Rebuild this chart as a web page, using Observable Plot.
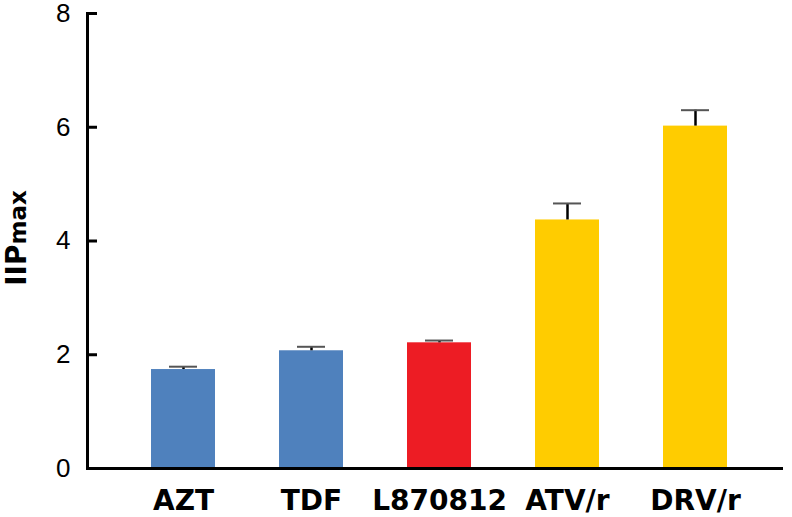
<!DOCTYPE html>
<html><head><meta charset="utf-8">
<script src="https://cdn.jsdelivr.net/npm/d3@7"></script>
<script src="https://cdn.jsdelivr.net/npm/@observablehq/plot@0.6"></script>
<style>
body{margin:0;background:#fff;}
#chart svg{font-family:"Liberation Sans",Arial,sans-serif;}
</style>
</head><body><div id="chart"></div>
<script>
const drugs = ["AZT", "TDF", "L870812", "ATV/r", "DRV/r"];
const values = [1.74, 2.07, 2.21, 4.37, 6.02];
const errors = [0.05, 0.07, 0.04, 0.29, 0.28];
const colors = ["#4F81BD", "#4F81BD", "#ED1C24", "#FFCC00", "#FFCC00"];
const yTicks = [0, 2, 4, 6, 8];

const data = drugs.map((d, i) => ({drug: d, value: values[i], err: errors[i], color: colors[i]}));

const plot = Plot.plot({
  width: 792,
  height: 517,
  marginLeft: 87,
  marginRight: 1,
  marginTop: 13,
  marginBottom: 49,
  style: {fontFamily: "'Liberation Sans', Arial, sans-serif", background: "#fff", color: "#000"},
  x: {domain: drugs, padding: 0.5, label: null},
  y: {domain: [0, 8], label: null},
  color: {type: "identity"},
  marks: [
    Plot.barY(data, {x: "drug", y: "value", fill: "color"}),
    Plot.ruleX(data, {x: "drug", y1: "value", y2: d => d.value + d.err, stroke: "#000", strokeWidth: 2.5}),
    Plot.tickY(data, {x: "drug", y: d => d.value + d.err, stroke: "#555", strokeWidth: 2, insetLeft: 18, insetRight: 18}),
    Plot.axisY({ticks: yTicks, tickSize: -10, tickPadding: 27, fontSize: 26, strokeWidth: 3, tickFormat: d => d, label: null}),
    Plot.axisX({tickSize: 0, tickPadding: 22, fontSize: 28, fontWeight: "bold", fontFamily: "'DejaVu Sans', sans-serif", label: null}),
    Plot.ruleY([0], {strokeWidth: 3, insetRight: 8}),
    Plot.frame({anchor: "left", strokeWidth: 3})
  ]
});

document.getElementById("chart").appendChild(plot);

const svg = d3.select(plot);
const t = svg.append("text")
  .attr("transform", "translate(26,238) rotate(-90)")
  .attr("text-anchor", "middle")
  .attr("fill", "#000")
  .style("font-family", "'DejaVu Sans', sans-serif")
  .style("font-weight", "bold");
t.append("tspan").style("font-size", "28px").text("IIP");
t.append("tspan").style("font-size", "23px").text("max");
</script>
</body></html>
